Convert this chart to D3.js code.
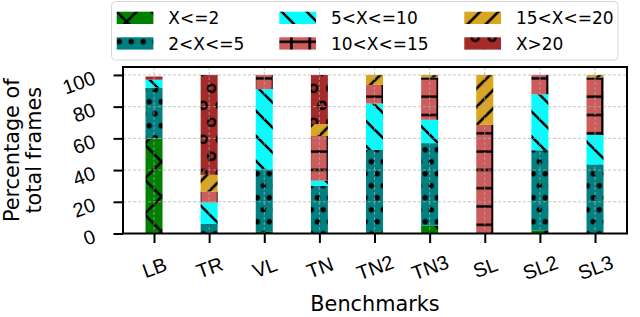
<!DOCTYPE html>
<html>
<head>
<meta charset="utf-8">
<script src="https://cdn.jsdelivr.net/npm/d3@7"></script>
<style>
  body { margin: 0; background: #fff; }
  svg { display: block; font-family: "DejaVu Sans", sans-serif; }
</style>
</head>
<body>
<div id="chart"></div>
<script>
// categories + one array per stacked series (percent of frames)
const benchmarks = ["LB", "TR", "VL", "TN", "TN2", "TN3", "SL", "SL2", "SL3"];
const bins = ["X<=2", "2<X<=5", "5<X<=10", "10<X<=15", "15<X<=20", "X>20"];
const upTo2      = [60,   0,    1,    0,    1,    5,    0,    2,    0];
const from2to5   = [32,   6,    39.5, 30,   51.7, 52,   0,    50.5, 43.6];
const from5to10  = [5,    13.5, 50.5, 3.3,  29.3, 14.7, 0,    35.3, 18.5];
const from10to15 = [0,    7,    9,    28.2, 11.7, 26.8, 68.5, 12.2, 36.4];
const from15to20 = [0,    10.5, 0,    7.5,  6.3,  1.5,  31.5, 0,    1.5];
const over20     = [2,    63,   0,    31,   0,    0,    0,    0,    0];
const yTicks = [0, 20, 40, 60, 80, 100];

const seriesArrays = [upTo2, from2to5, from5to10, from10to15, from15to20, over20];
const colors = ["#008000", "#008080", "#00ffff", "#cd5c5c", "#daa520", "#a52a2a"];
const hatchIds = ["h-x", "h-dot", "h-back", "h-plus", "h-slash", "h-o"];

// table for d3.stack
const table = benchmarks.map((name, i) => {
  const row = { name, idx: i };
  bins.forEach((b, k) => { row[b] = seriesArrays[k][i]; });
  return row;
});

const width = 640, height = 317;
const plot = { left: 123, right: 627, top: 67, bottom: 233.5 };

const svg = d3.select("#chart").append("svg")
  .attr("width", width)
  .attr("height", height);

const x = d3.scaleLinear()
  .domain([-0.5625, 8.58])
  .range([plot.left, plot.right]);

const y = d3.scaleLinear()
  .domain([0, 105])
  .range([plot.bottom, plot.top]);

const barW = 17;
const hatchW = 2.6;

// A) hatch patterns, anchored in absolute coords like matplotlib does
const defs = svg.append("defs");
function addPattern(id, w, h, ox, oy, fill, draw) {
  const p = defs.append("pattern")
    .attr("id", id)
    .attr("patternUnits", "userSpaceOnUse")
    .attr("width", w).attr("height", h)
    .attr("x", ox).attr("y", oy);
  p.append("rect").attr("width", w).attr("height", h).attr("fill", fill);
  draw(p, w, h);
}
const hatchLine = (p, d) => p.append("path").attr("d", d)
  .attr("stroke", "#000").attr("stroke-width", hatchW).attr("fill", "none");

addPattern("h-x", 35, 35, 4.2, 4.2, colors[0], (p, P) => {
  hatchLine(p, `M0,0L${P},${P}M-3,${P - 3}L3,${P + 3}M${P - 3},-3L${P + 3},3`);
  hatchLine(p, `M0,${P}L${P},0M-3,3L3,-3M${P - 3},${P + 3}L${P + 3},${P - 3}`);
});
addPattern("h-dot", 12, 24, 533.3, 155.7, colors[1], (p) => {
  [[6, 6], [0, 18], [12, 18]].forEach(([cx, cy]) =>
    p.append("circle").attr("cx", cx).attr("cy", cy).attr("r", 2.7).attr("fill", "#000"));
});
addPattern("h-back", 25, 25, 0, 5, colors[2], (p, P) => {
  hatchLine(p, `M0,0L${P},${P}M-3,${P - 3}L3,${P + 3}M${P - 3},-3L${P + 3},3`);
});
addPattern("h-plus", 18.3, 18.3, 7.75, -3.95, colors[3], (p, P) => {
  hatchLine(p, `M${P / 2},0V${P}M0,${P / 2}H${P}`);
});
addPattern("h-slash", 18.3, 18.3, 0, 16, colors[4], (p, P) => {
  hatchLine(p, `M0,${P}L${P},0M-3,3L3,-3M${P - 3},${P + 3}L${P + 3},${P - 3}`);
});
addPattern("h-o", 17, 34, 203.2, 79.8, colors[5], (p) => {
  [[8.5, 8.5], [0, 25.5], [17, 25.5]].forEach(([cx, cy]) =>
    p.append("circle").attr("cx", cx).attr("cy", cy).attr("r", 3.6)
      .attr("fill", "none").attr("stroke", "#000").attr("stroke-width", 2.4));
});

// B) stacked bars
const series = d3.stack().keys(bins)(table);

svg.append("g")
  .selectAll("g")
  .data(series)
  .join("g")
  .attr("fill", (d, i) => `url(#${hatchIds[i]})`)
  .selectAll("rect")
  .data(d => d.filter(s => s[1] - s[0] > 0))
  .join("rect")
  .attr("x", d => x(d.data.idx) - barW / 2)
  .attr("width", barW)
  .attr("y", d => y(d[1]))
  .attr("height", d => y(d[0]) - y(d[1]));

// C) grid on top of the bars (matplotlib default)
const grid = svg.append("g")
  .attr("stroke", "#b0b0b0")
  .attr("stroke-width", 0.9)
  .attr("stroke-dasharray", "3,2")
  .attr("opacity", 0.8);
grid.selectAll("line.gy")
  .data(yTicks)
  .join("line")
  .attr("class", "gy")
  .attr("x1", plot.left).attr("x2", plot.right)
  .attr("y1", d => y(d)).attr("y2", d => y(d));
grid.selectAll("line.gx")
  .data(d3.range(benchmarks.length))
  .join("line")
  .attr("class", "gx")
  .attr("x1", d => x(d)).attr("x2", d => x(d))
  .attr("y1", plot.top).attr("y2", plot.bottom);

// D) axes
const xAxis = svg.append("g")
  .attr("transform", `translate(0,${plot.bottom})`)
  .call(d3.axisBottom(x)
    .tickValues(d3.range(benchmarks.length))
    .tickFormat(i => benchmarks[i])
    .tickSize(9.5));
xAxis.select(".domain").remove();
xAxis.selectAll(".tick line").attr("stroke-width", 2);
xAxis.selectAll(".tick text")
  .attr("y", 0).attr("dy", null)
  .attr("text-anchor", "middle")
  .attr("dominant-baseline", "central")
  .attr("transform", "translate(0,34) rotate(-20)")
  .attr("fill", "#000")
  .style("font-size", "20px");

const yAxis = svg.append("g")
  .attr("transform", `translate(${plot.left},0)`)
  .call(d3.axisLeft(y).tickValues(yTicks).tickSize(9.5));
yAxis.select(".domain").remove();
yAxis.selectAll(".tick line").attr("stroke-width", 2);
yAxis.selectAll(".tick text")
  .attr("x", 0).attr("dy", null)
  .attr("text-anchor", "end")
  .attr("transform", "translate(-26,8) rotate(-20)")
  .attr("fill", "#000")
  .style("font-size", "20px");

// frame
svg.append("rect")
  .attr("x", plot.left).attr("y", plot.top)
  .attr("width", plot.right - plot.left)
  .attr("height", plot.bottom - plot.top)
  .attr("fill", "none")
  .attr("stroke", "#000")
  .attr("stroke-width", 2);

// E) axis labels
svg.append("text")
  .attr("x", (plot.left + plot.right) / 2)
  .attr("y", 311)
  .attr("text-anchor", "middle")
  .style("font-size", "20.8px")
  .text("Benchmarks");

const yLabel = svg.append("text")
  .attr("transform", `translate(0,${(plot.top + plot.bottom) / 2}) rotate(-90)`)
  .attr("text-anchor", "middle")
  .style("font-size", "20.8px");
yLabel.append("tspan").attr("x", 0).attr("y", 18.5).text("Percentage of");
yLabel.append("tspan").attr("x", 0).attr("y", 40.5).text("total frames");

// F) legend (3 columns, filled column-wise)
const legend = svg.append("g");
legend.append("rect")
  .attr("x", 111.5).attr("y", 1.5)
  .attr("width", 506.5).attr("height", 58.5)
  .attr("rx", 4)
  .attr("fill", "#fff")
  .attr("stroke", "#d6d6d6")
  .attr("stroke-width", 1);

const colX = [116.7, 279.3, 464.3];
const rowY = [11.7, 37.3];
bins.forEach((b, k) => {
  const cx = colX[Math.floor(k / 2)];
  const cy = rowY[k % 2];
  legend.append("rect")
    .attr("x", cx).attr("y", cy)
    .attr("width", 36.7).attr("height", 12.3)
    .attr("fill", `url(#${hatchIds[k]})`);
  legend.append("text")
    .attr("x", cx + 51.6)
    .attr("y", cy + 12.3)
    .style("font-size", "17px")
    .text(b);
});
</script>
</body>
</html>
